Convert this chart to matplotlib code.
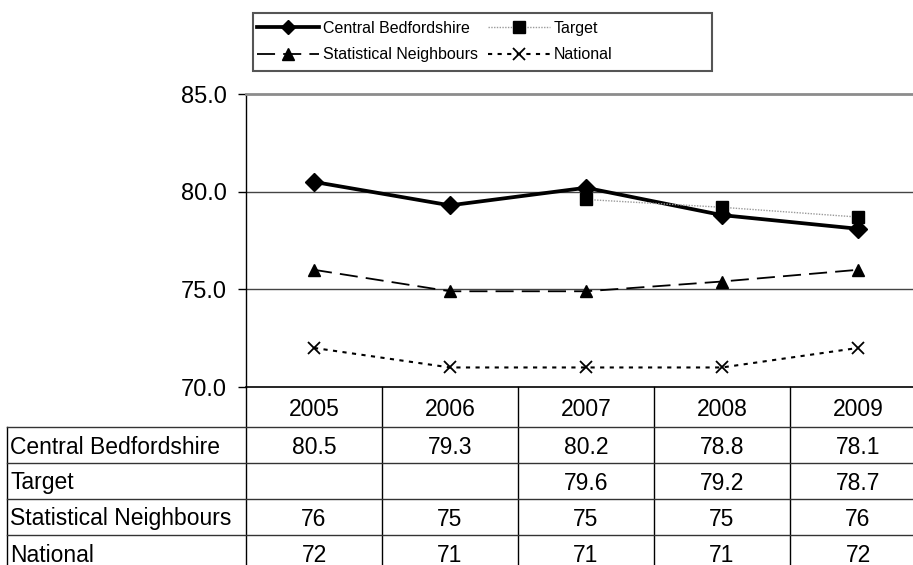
import matplotlib
matplotlib.use("Agg")
import matplotlib.pyplot as plt
from matplotlib.lines import Line2D
from matplotlib.patches import Rectangle
from matplotlib.transforms import blended_transform_factory

# ---- data ----
years = ["2005", "2006", "2007", "2008", "2009"]
central_beds = [80.5, 79.3, 80.2, 78.8, 78.1]
target = [None, None, 79.6, 79.2, 78.7]
stat_neighbours = [76.0, 74.9, 74.9, 75.4, 76.0]
national = [72.0, 71.0, 71.0, 71.0, 72.0]

series_names = ["Central Bedfordshire", "Target", "Statistical Neighbours", "National"]
series_values = [central_beds, target, stat_neighbours, national]
series_formats = ["{:.1f}", "{:.1f}", "{:.0f}", "{:.0f}"]

y_ticks = [70.0, 75.0, 80.0, 85.0]

# ---- figure geometry (pixels) ----
W, H = 913, 565
DPI = 100
FONT = "Liberation Sans"
plt.rcParams["font.family"] = [FONT, "DejaVu Sans"]


def fx(px):
    return px / W


def fy(py):
    return 1 - py / H


fig = plt.figure(figsize=(W / DPI, H / DPI), dpi=DPI)
ax_left, ax_right, ax_top, ax_bottom = 246, 926, 94, 387
ax = fig.add_axes([fx(ax_left), fy(ax_bottom), fx(ax_right - ax_left),
                   (ax_bottom - ax_top) / H])

x = list(range(len(years)))

# Central Bedfordshire: thick solid with diamonds
ax.plot(x, central_beds, color="black", lw=2.7, marker="D", ms=9,
        zorder=5, clip_on=False)

# Target: faint dotted grey line with black squares
tx = [i for i, v in zip(x, target) if v is not None]
ty = [v for v in target if v is not None]
ax.plot(tx, ty, color="#9a9a9a", lw=1.0, ls=(0, (1, 1)), marker="s", ms=8,
        mfc="black", mec="black", zorder=6, clip_on=False)

# Statistical neighbours: long dashes with triangles
ax.plot(x, stat_neighbours, color="black", lw=1.3, ls=(0, (10, 4.5)),
        marker="^", ms=9, zorder=4, clip_on=False)

# National: short dashes with crosses
ax.plot(x, national, color="black", lw=1.5, ls=(0, (2, 2.6)), marker="x",
        ms=8, mew=1.3, zorder=4, clip_on=False)

ax.set_xlim(-0.5, len(years) - 0.5)
ax.set_ylim(70, 85)
ax.set_yticks(y_ticks)
ax.set_yticklabels([f"{v:.1f}" for v in y_ticks], fontsize=17, family=FONT)
ax.tick_params(axis="y", direction="out", length=6, width=1, pad=8)
ax.tick_params(axis="x", bottom=False, labelbottom=False)
for yv in [75, 80]:
    ax.axhline(yv, color="#444444", lw=1.0, zorder=1)
ax.spines["top"].set_color("#8c8c8c")
ax.spines["top"].set_linewidth(2.0)
ax.spines["right"].set_visible(False)
ax.spines["left"].set_color("black")
ax.spines["bottom"].set_color("black")
ax.spines["left"].set_linewidth(1.0)
ax.spines["bottom"].set_linewidth(1.2)

# ---- data table under the axis ----
tr = blended_transform_factory(ax.transData, fig.transFigure)
row_edges = [387, 427, 463, 499, 535, 571]
label_left = 7
fs_table = 16.5
text_shift = 2  # nudge text down slightly inside each row

# vertical column separators
for b in range(len(years) + 1):
    xb = b - 0.5
    ax.add_line(Line2D([xb, xb], [fy(row_edges[0]), fy(row_edges[-1])],
                       transform=tr, color="black", lw=1.0, clip_on=False))
# left border of row labels
fig.add_artist(Line2D([fx(label_left)] * 2, [fy(row_edges[1]), fy(row_edges[-1])],
                      color="black", lw=1.0))
# horizontal row separators
for r in row_edges[1:-1]:
    fig.add_artist(Line2D([fx(label_left), 1.0], [fy(r)] * 2,
                          color="#333333", lw=1.0))

# header row
hy = fy((row_edges[0] + row_edges[1]) / 2 + text_shift)
for i, yr in enumerate(years):
    ax.text(i, hy, yr, transform=tr, ha="center", va="center",
            fontsize=fs_table, family=FONT, clip_on=False)

# body rows
for k, (name, vals, fmt) in enumerate(zip(series_names, series_values, series_formats)):
    cy = fy((row_edges[k + 1] + row_edges[k + 2]) / 2 + text_shift)
    fig.text(fx(label_left + 3), cy, name, ha="left", va="center",
             fontsize=fs_table, family=FONT)
    for i, v in enumerate(vals):
        if v is None:
            continue
        ax.text(i, cy, fmt.format(v), transform=tr, ha="center", va="center",
                fontsize=fs_table, family=FONT, clip_on=False)

# ---- legend (filled column-wise, so order gives rows CB/Target, SN/National) ----
h_cb = Line2D([], [], color="black", lw=2.7, marker="D", ms=7)
h_tg = Line2D([], [], color="#9a9a9a", lw=1.0, ls=(0, (1, 1)), marker="s", ms=8,
              mfc="black", mec="black")
h_sn = Line2D([], [], color="black", lw=1.3, ls=(0, (10, 4.5)), marker="^", ms=8)
h_na = Line2D([], [], color="black", lw=1.5, ls=(0, (2, 2.6)), marker="x", ms=8, mew=1.3)
leg = fig.legend([h_cb, h_sn, h_tg, h_na],
                 [series_names[0], series_names[2], series_names[1], series_names[3]],
                 ncol=2, loc="upper left",
                 bbox_to_anchor=(fx(252), fy(16)), frameon=False,
                 prop={"family": FONT, "size": 11.5}, handlelength=3.9,
                 handletextpad=0.25, columnspacing=0.6, labelspacing=0.72,
                 borderpad=0.3, borderaxespad=0)
fig.add_artist(Rectangle((fx(253), fy(71)), fx(712 - 253), (71 - 13) / H,
                         transform=fig.transFigure, fill=False,
                         edgecolor="#555555", lw=1.5))

fig.savefig("out.png", dpi=DPI)
